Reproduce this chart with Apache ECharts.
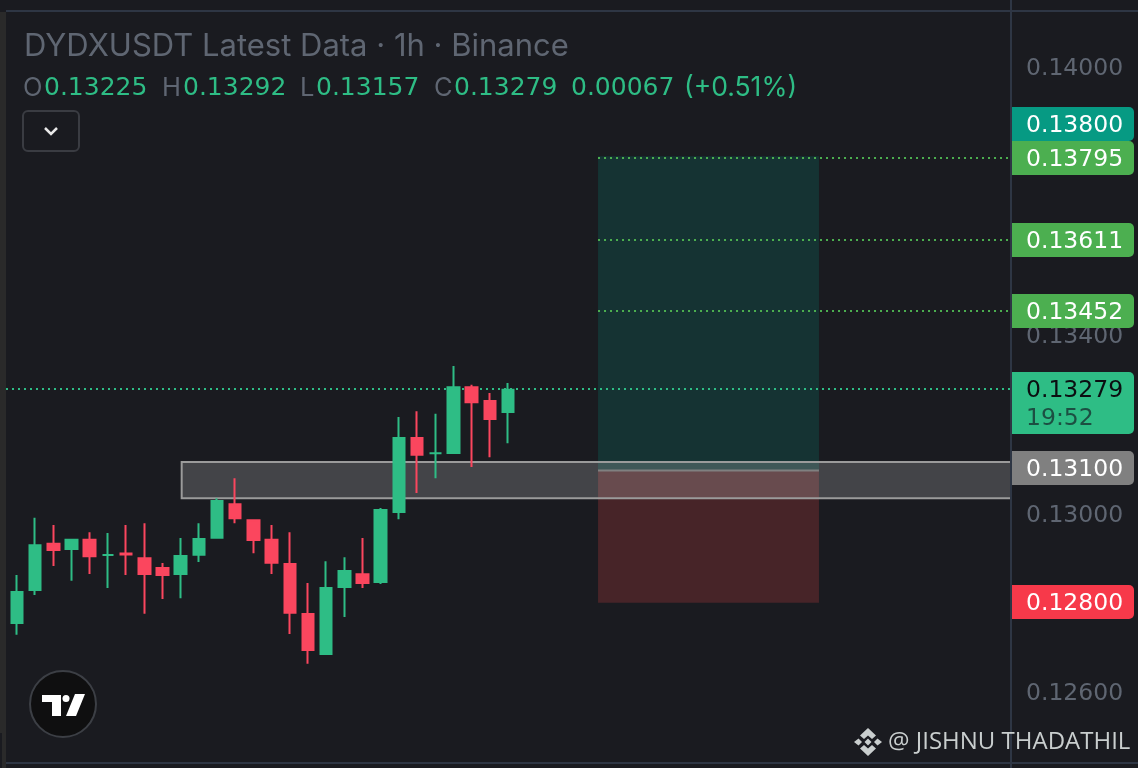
<!DOCTYPE html>
<html><head><meta charset="utf-8">
<style>html,body{margin:0;padding:0;background:#1a1b20}#c{width:1138px;height:768px}</style>
<script src="https://cdn.jsdelivr.net/npm/echarts@6/dist/echarts.min.js"></script>
</head><body><div id="c"></div>
<script>
// ---- data ----
const candleOpen  = [0.12752,0.12826,0.12934,0.12918,0.12943,0.12907,0.12910,0.12902,0.12880,0.12862,0.12905,0.12943,0.13023,0.12987,0.12943,0.12889,0.12777,0.12683,0.12833,0.12866,0.12844,0.13001,0.13171,0.13135,0.13133,0.13285,0.13254,0.13225];
const candleClose = [0.12826,0.12931,0.12916,0.12943,0.12902,0.12907,0.12908,0.12862,0.12860,0.12907,0.12945,0.13030,0.12987,0.12938,0.12887,0.12775,0.12692,0.12835,0.12873,0.12842,0.13010,0.13171,0.13129,0.13135,0.13285,0.13247,0.13209,0.13279];
const candleLow   = [0.12728,0.12817,0.12882,0.12849,0.12864,0.12833,0.12862,0.12775,0.12808,0.12810,0.12891,0.12943,0.12978,0.12911,0.12864,0.12730,0.12663,0.12683,0.12768,0.12833,0.12842,0.12987,0.13046,0.13079,0.13133,0.13104,0.13126,0.13157];
const candleHigh  = [0.12862,0.12990,0.12974,0.12943,0.12958,0.12956,0.12974,0.12978,0.12889,0.12945,0.12978,0.13034,0.13079,0.12987,0.12974,0.12958,0.12844,0.12893,0.12902,0.12945,0.13012,0.13216,0.13229,0.13223,0.13330,0.13288,0.13270,0.13292];
const axisTicks = [0.126,0.13,0.134,0.14];
const lastPrice = 0.13279, countdown = '19:52';
const targets = [0.13795,0.13611,0.13452];
const positionTarget = 0.138, positionEntry = 0.131, positionEntryDrawn = 0.13096, positionStop = 0.128;
const positionFrom = 31.95, positionTo = 44.1;
const zoneFrom = 9, zoneTop = 0.13115, zoneBottom = 0.13034;
const titleText = 'DYDXUSDT Latest Data · 1h · Binance';
const changeAbs = '0.00067', changePct = '(+0.51%)';
const watermark = '@ JISHNU THADATHIL';

// ---- style ----
const BG='#1a1b20',UP='#2ebd85',DOWN='#fb465e',MUTED='#5f6672',TP='#4caf50',FONT='Inter',NUM='"DejaVu Sans"';
const GL=6,GR=1011,GT=12,GB=763;
const XMIN=-0.605,XMAX=54.66,YMIN=0.124409,YMAX=0.141232;
const PX=(YMAX-YMIN)/(GB-GT);           // value of one pixel, to offset the body's stroke
const fmt=v=>v.toFixed(5);
const snap=y=>Math.round(y-0.3);

const candles=candleOpen.map((o,i)=>{
  const c=candleClose[i];
  if(Math.abs(o-c)<=3*PX) return [i,o,c,candleLow[i],candleHigh[i]];
  const s=o<c?1:-1;
  return [i,o+s*PX,c-s*PX,candleLow[i],candleHigh[i]];
});

function tag(p,y0,h,color,lines){
  const cs=p.coordSys;
  const kids=[{type:'rect',shape:{x:cs.x+cs.width+1,y:y0,width:122,height:h,r:[0,5,5,0]},style:{fill:color}}];
  lines.forEach(l=>kids.push({type:'text',style:{x:1026,y:l.y+2,text:l.t,fill:l.c,font:'400 23.5px '+NUM,verticalAlign:'middle',align:'left'}}));
  return {type:'group',children:kids};
}
const tags=[
 {v:positionTarget,text:fmt(positionTarget),color:'#069a83',up:32},
 ...targets.map(v=>({v,text:fmt(v),color:TP,up:0})),
 {v:positionEntry,text:fmt(positionEntry),color:'#808080',up:0},
 {v:positionStop,text:fmt(positionStop),color:'#f7394a',up:0}
];

const option={
 backgroundColor:BG,animation:false,
 title:{text:titleText,left:19,top:26,textStyle:{color:MUTED,fontFamily:FONT,fontWeight:400,fontSize:31}},
 grid:{left:GL,top:GT,width:GR-GL,height:GB-GT},
 xAxis:{type:'value',min:XMIN,max:XMAX,show:false},
 yAxis:{type:'value',position:'right',min:YMIN,max:YMAX,scale:true,
  axisLine:{show:false},axisTick:{show:false},splitLine:{show:false},
  axisLabel:{customValues:axisTicks,formatter:v=>'{a|'+fmt(v)+'}',margin:15,align:'left',
   rich:{a:{color:MUTED,fontFamily:NUM,fontSize:23.5,padding:[4,0,0,0]}}}},
 series:[
  {name:'position',type:'custom',coordinateSystem:'cartesian2d',z:1,silent:true,data:[[positionFrom,positionTarget]],
   renderItem(p,api){
    const [x0,t]=api.coord([positionFrom,positionTarget]);
    const [x1,e]=api.coord([positionTo,positionEntryDrawn]);
    const s=api.coord([positionTo,positionStop])[1];
    return {type:'group',children:[
     {type:'rect',shape:{x:x0,y:t,width:x1-x0,height:e-t},style:{fill:'#153333'}},
     {type:'rect',shape:{x:x0,y:e,width:x1-x0,height:s-e},style:{fill:'#472428'}},
    ]};
   }},
  {name:'zone',type:'custom',coordinateSystem:'cartesian2d',z:2,silent:true,data:[[zoneFrom,zoneTop]],
   renderItem(p,api){
    const [x0,t]=api.coord([zoneFrom,zoneTop]);
    const [x1,b]=api.coord([XMAX,zoneBottom]);
    const e=api.coord([positionTo,positionEntryDrawn]);
    const xs=api.coord([positionFrom,positionEntryDrawn])[0];
    return {type:'group',children:[
     {type:'rect',shape:{x:x0+1,y:t,width:x1-x0-1,height:b-t},style:{fill:'rgba(255,255,255,0.18)',stroke:'#9b9b9b',lineWidth:2}},
     {type:'line',shape:{x1:xs,y1:e[1],x2:e[0],y2:e[1]},style:{stroke:'#808080',lineWidth:2}}
    ]};
   }},
  {name:'levels',type:'custom',coordinateSystem:'cartesian2d',z:3,silent:true,
   data:[[XMIN,lastPrice],...targets.map(v=>[positionFrom,v])],
   renderItem(p,api){
    const a=api.coord([api.value(0),api.value(1)]);
    const x2=api.coord([XMAX,0])[0];
    const y=snap(a[1]);
    return {type:'line',shape:{x1:a[0],y1:y,x2,y2:y},style:{stroke:p.dataIndex===0?UP:TP,lineWidth:2,lineDash:[2,4]}};
   }},
  {name:'DYDXUSDT',type:'candlestick',z:5,barWidth:12,data:candles,encode:{x:0,y:[1,2,3,4]},
   itemStyle:{color:UP,color0:DOWN,borderColor:UP,borderColor0:DOWN,borderWidth:2,borderColorDoji:UP}},
  {name:'tags',type:'custom',coordinateSystem:'cartesian2d',z:20,silent:true,data:tags.map((t,i)=>[i,t.v]),
   renderItem(p,api){
    const t=tags[p.dataIndex];
    const y=snap(api.coord([0,t.v])[1])-t.up;
    return tag(p,y-17,34,t.color,[{t:t.text,y:y,c:'#fff'}]);
   }},
  {name:'last',type:'custom',coordinateSystem:'cartesian2d',z:21,silent:true,data:[[0,lastPrice]],
   renderItem(p,api){
    const y=snap(api.coord([0,lastPrice])[1]);
    return tag(p,y-17,62,UP,[{t:fmt(lastPrice),y:y,c:'#0b0e11'},{t:countdown,y:y+28,c:'#1c4f42'}]);
   }}
 ],
 graphic:{elements:[
  {type:'rect',z:30,silent:true,shape:{x:0,y:12,width:6,height:756},style:{fill:'#2a2a2a'}},
  {type:'rect',z:31,silent:true,shape:{x:0,y:733,width:2,height:35},style:{fill:BG}},
  {type:'rect',z:30,silent:true,shape:{x:6,y:10,width:1132,height:2},style:{fill:'#2e3644'}},
  {type:'rect',z:30,silent:true,shape:{x:6,y:762,width:1132,height:2},style:{fill:'#2e3644'}},
  {type:'rect',z:30,silent:true,shape:{x:1010,y:0,width:2,height:768},style:{fill:'#2e3644'}},
  ...[['O',23,MUTED,FONT,25.5],[fmt(candleOpen[27]),44,UP,NUM,25],['H',162,MUTED,FONT,25.5],[fmt(candleHigh[27]),183,UP,NUM,25],['L',300,MUTED,FONT,25.5],[fmt(candleLow[27]),316,UP,NUM,25],['C',434,MUTED,FONT,25.5],[fmt(candleClose[27]),454,UP,NUM,25],[changeAbs,571,UP,NUM,25],[changePct,684,UP,FONT,26.5]]
   .map(([t,x,c,f,s])=>({type:'text',z:30,silent:true,style:{x,y:88.5,text:t,fill:c,font:'400 '+s+'px '+f,verticalAlign:'middle'}})),
  {type:'rect',z:30,silent:true,shape:{x:23,y:111,width:56,height:40,r:5},style:{fill:BG,stroke:'#3a3c42',lineWidth:2}},
  {type:'polyline',z:31,silent:true,shape:{points:[[45,128],[51,134],[57,128]]},style:{stroke:'#e8e8e8',lineWidth:2.5,fill:'none'}},
  {type:'circle',z:30,silent:true,shape:{cx:63,cy:704,r:33},style:{fill:'#0f0f10',stroke:'#3c3f45',lineWidth:2}},
  {type:'polygon',z:31,silent:true,shape:{points:[[42,695],[61,695],[61,716],[52,716],[52,702],[42,702]]},style:{fill:'#fff'}},
  {type:'circle',z:31,silent:true,shape:{cx:66,cy:698.5,r:3.5},style:{fill:'#fff'}},
  {type:'polygon',z:31,silent:true,shape:{points:[[75,694],[85,694],[76,716],[66,716]]},style:{fill:'#fff'}},
  ...[
   [[868,728],[876,735.5],[872,739],[868,735.5],[864,739],[860,735.5]],
   [[868,756],[860,748.5],[864,745],[868,748.5],[872,745],[876,748.5]],
   [[868,738.5],[871.5,742],[868,745.5],[864.5,742]],
   [[858.5,738.5],[862,742],[858.5,745.5],[854,742]],
   [[877.5,738.5],[882,742],[877.5,745.5],[874,742]]
  ].map(p=>({type:'polygon',z:32,silent:true,shape:{points:p},style:{fill:'#c9cece'}})),
  {type:'text',z:32,silent:true,style:{x:888,y:742,text:watermark,fill:'#c9cece',font:'400 24px "Open Sans"',verticalAlign:'middle'}}
 ]}
};
echarts.init(document.getElementById('c'),null,{renderer:'canvas',width:1138,height:768}).setOption(option);
</script></body></html>
